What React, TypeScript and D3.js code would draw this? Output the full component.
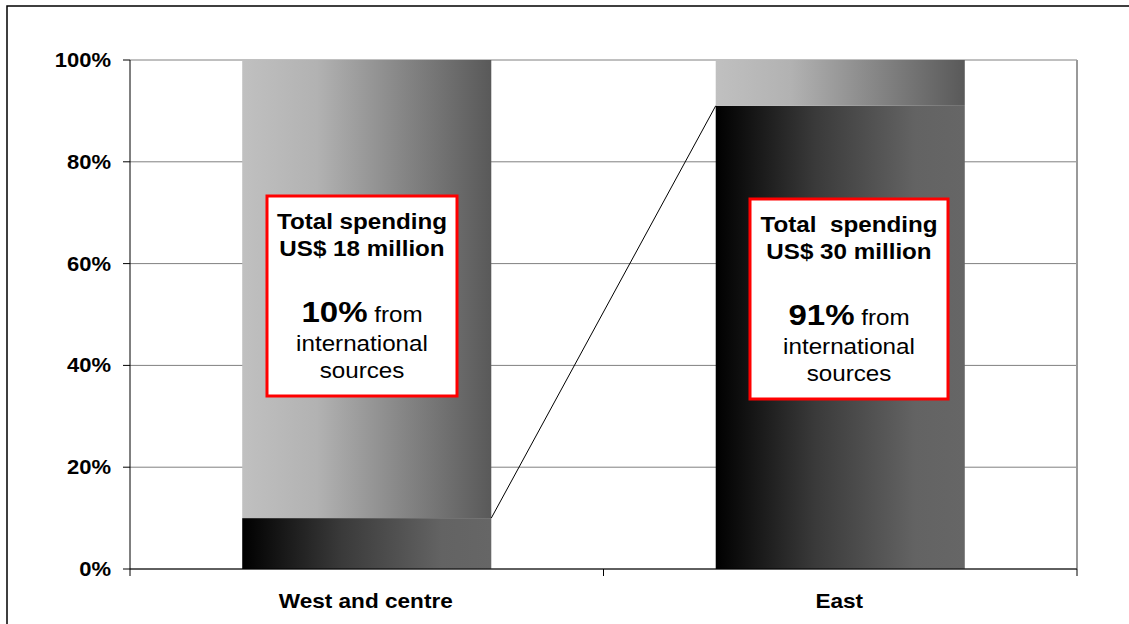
import React from "react";
import * as d3 from "d3";

const categories = ["West and centre", "East"];
const internationalShare = [0.10, 0.91];
const domesticShare = [0.90, 0.09];
const yTicks = [0, 0.2, 0.4, 0.6, 0.8, 1.0];
const boxTitle1 = ["Total spending", "Total  spending"];
const boxTitle2 = ["US$ 18 million", "US$ 30 million"];
const boxPct = ["10%", "91%"];

const W = 1129;
const H = 624;
const FONT = "Arial, 'Liberation Sans', Helvetica, sans-serif";
const SX = 1.1;

export default function App() {
  const left = 130, right = 1077, top = 60, bottom = 569;
  const x = d3.scaleBand<string>().domain(categories).range([left, right]).padding(0);
  const y = d3.scaleLinear().domain([0, 1]).range([bottom, top]);
  const barW = x.bandwidth() * 0.526;
  const barX = (c: string) => (x(c) as number) + (x.bandwidth() - barW) / 2;
  const fmt = d3.format(".0%");

  const lineGen = d3.line<[number, number]>().x((d) => d[0]).y((d) => d[1]);
  const seriesPts: [number, number][] = [
    [barX(categories[0]) + barW, y(internationalShare[0])],
    [barX(categories[1]), y(internationalShare[1])],
  ];
  const tr = (tx: number, ty: number, s = SX) => `translate(${tx},${ty}) scale(${s},1)`;

  return (
    <div style={{ position: "absolute", left: 0, top: 0 }}>
      <svg width={W} height={H} style={{ display: "block", fontFamily: FONT }}>
        <defs>
          <linearGradient id="gBottom" x1="0" x2="1" y1="0" y2="0">
            <stop offset="0%" stopColor="#000000" />
            <stop offset="40%" stopColor="#3a3a3a" />
            <stop offset="80%" stopColor="#636363" />
            <stop offset="100%" stopColor="#666666" />
          </linearGradient>
          <linearGradient id="gTop" x1="0" x2="1" y1="0" y2="0">
            <stop offset="0%" stopColor="#c0c0c0" />
            <stop offset="30%" stopColor="#b2b2b2" />
            <stop offset="65%" stopColor="#858585" />
            <stop offset="100%" stopColor="#595959" />
          </linearGradient>
        </defs>
        <rect x={0} y={0} width={W} height={H} fill="#fff" />
        {/* outer chart border */}
        <rect x={7} y={6} width={W + 20} height={H + 20} fill="none" stroke="#000" strokeWidth={1.5} />

        {/* gridlines */}
        {yTicks.map((t) => (
          <line key={"g" + t} x1={left} x2={right} y1={y(t)} y2={y(t)} stroke="#808080" strokeWidth={1} />
        ))}
        {/* plot area right border */}
        <line x1={right} x2={right} y1={top} y2={bottom} stroke="#999" strokeWidth={2} />

        {/* bars */}
        {categories.map((c, i) => (
          <g key={c}>
            <rect x={barX(c)} y={y(internationalShare[i])} width={barW} height={y(0) - y(internationalShare[i])} fill="url(#gBottom)" />
            <rect x={barX(c)} y={y(internationalShare[i] + domesticShare[i])} width={barW} height={y(internationalShare[i]) - y(internationalShare[i] + domesticShare[i])} fill="url(#gTop)" />
          </g>
        ))}

        {/* series line */}
        <path d={lineGen(seriesPts) as string} stroke="#000" strokeWidth={1} fill="none" />

        {/* axes */}
        <line x1={left} x2={left} y1={top} y2={bottom} stroke="#000" strokeWidth={1} />
        <line x1={left} x2={right} y1={bottom} y2={bottom} stroke="#000" strokeWidth={1} />
        {yTicks.map((t) => (
          <g key={"t" + t}>
            <line x1={left - 7} x2={left} y1={y(t)} y2={y(t)} stroke="#000" />
            <text transform={tr(111, y(t) + 7)} textAnchor="end" fontWeight="bold" fontSize={20}>
              {fmt(t)}
            </text>
          </g>
        ))}
        {[left, (left + right) / 2, right].map((xx) => (
          <line key={"xt" + xx} x1={xx} x2={xx} y1={bottom} y2={bottom + 7} stroke="#000" />
        ))}
        {categories.map((c) => (
          <text key={"xl" + c} transform={tr((x(c) as number) + x.bandwidth() / 2 - 1, 607.5, 1.13)} textAnchor="middle" fontWeight="bold" fontSize={20}>
            {c}
          </text>
        ))}

        {/* annotation boxes */}
        {categories.map((c, i) => {
          const bx = i === 0 ? 267 : 750;
          const by = i === 0 ? 196 : 199;
          const bw = i === 0 ? 190 : 198;
          const bh = 200;
          const mx = bx + bw / 2;
          return (
            <g key={"box" + c}>
              <rect x={bx} y={by} width={bw} height={bh} fill="#fff" stroke="#ff0000" strokeWidth={3} />
              <text transform={tr(mx, by + 33)} textAnchor="middle" fontWeight="bold" fontSize={22} style={{ whiteSpace: "pre" }}>
                {boxTitle1[i]}
              </text>
              <text transform={tr(mx, by + 60)} textAnchor="middle" fontWeight="bold" fontSize={22}>
                {boxTitle2[i]}
              </text>
              <text transform={tr(mx, by + 126)} textAnchor="middle">
                <tspan fontWeight="bold" fontSize={30}>{boxPct[i]}</tspan>
                <tspan fontSize={22}> from</tspan>
              </text>
              <text transform={tr(mx, by + 155)} textAnchor="middle" fontSize={22}>
                international
              </text>
              <text transform={tr(mx, by + 182)} textAnchor="middle" fontSize={22}>
                sources
              </text>
            </g>
          );
        })}
      </svg>
    </div>
  );
}
